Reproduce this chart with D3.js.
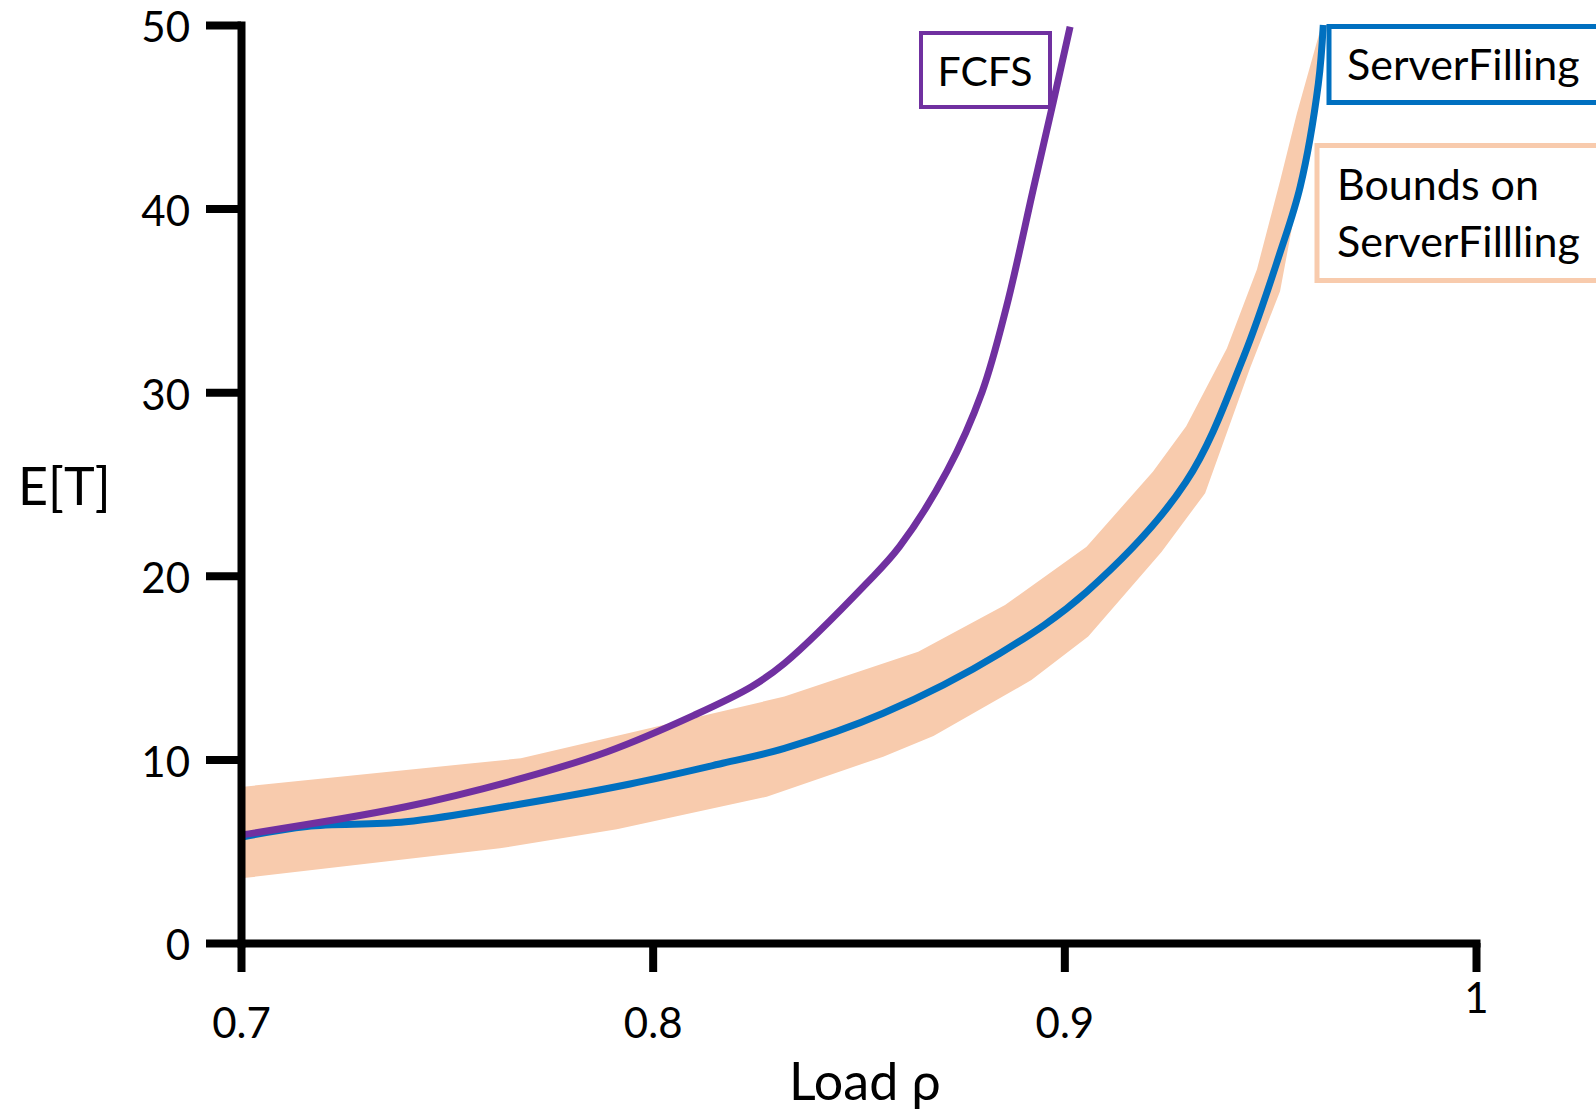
<!DOCTYPE html>
<html>
<head>
<meta charset="utf-8">
<script src="https://cdn.jsdelivr.net/npm/d3@7"></script>
<style>
  body { margin: 0; background: #ffffff; }
  svg text { font-family: Lato, "Open Sans", sans-serif; fill: #000; }
</style>
</head>
<body>
<div id="chart"></div>
<script>

// ticks
const xTicks = [0.7, 0.8, 0.9, 1]
const yTicks = [0, 10, 20, 30, 40, 50]

// FCFS curve (purple)
const fcfsRho = [0.700, 0.740, 0.769, 0.789, 0.810, 0.824, 0.832, 0.852, 0.860, 0.8715, 0.880, 0.886, 0.8925, 0.8973, 0.9014]
const fcfsET  = [5.88, 7.42, 9.02, 10.42, 12.4, 13.96, 15.23, 19.6, 21.6, 25.7, 30.0, 34.7, 41.1, 45.8, 49.9]

// ServerFilling curve (blue)
const sfRho = [0.700, 0.716, 0.740, 0.768, 0.7945, 0.817, 0.832, 0.856, 0.8844, 0.9054, 0.9295, 0.9435, 0.9524, 0.9573, 0.9617, 0.9629]
const sfET  = [5.76, 6.35, 6.6, 7.57, 8.66, 9.79, 10.6, 12.51, 15.78, 19.13, 25.1, 31.9, 37.6, 41.2, 46.8, 50.0]

// bounds band (peach), upper and lower edge
const boundsUpRho = [0.700, 0.768, 0.832, 0.8645, 0.8856, 0.9054, 0.9215, 0.9296, 0.9395, 0.9468, 0.9524, 0.9565, 0.9625]
const boundsUpET  = [8.5, 10.06, 13.42, 15.87, 18.41, 21.58, 25.67, 28.15, 32.4, 36.7, 41.5, 45.2, 50]
const boundsLoRho = [0.700, 0.7629, 0.7913, 0.8277, 0.856, 0.8682, 0.892, 0.9058, 0.9236, 0.9342, 0.9451, 0.9524, 0.9565, 0.9622, 0.9638]
const boundsLoET  = [3.52, 5.16, 6.19, 7.97, 10.15, 11.27, 14.32, 16.7, 21.3, 24.5, 31.3, 35.5, 40.4, 47.2, 50]

// labels
const xLabel = "Load ρ"
const yLabel = "E[T]"
const fcfsLabel = "FCFS"
const sfLabel = "ServerFilling"
const boundsLabel = ["Bounds on", "ServerFillling"]

const purple = "#7030A0"
const blue = "#0070C0"
const peach = "#F8CBAD"

const wSvg = 1596, hSvg = 1111

let svg = d3.select("#chart")
            .append("svg")
            .attr("width", wSvg)
            .attr("height", hSvg)

svg.append("rect")
   .attr("width", wSvg)
   .attr("height", hSvg)
   .attr("fill", "#ffffff")

let xScale = d3.scaleLinear([0.7, 1], [241, 1476])
let yScale = d3.scaleLinear([0, 50], [943, 25])

function zipPoints(xs, ys) 
{
  return xs.map((x, i) => ({ rho: x, et: ys[i] }))
}

// band polygon: upper edge then lower edge backwards
let bandPoints = zipPoints(boundsUpRho, boundsUpET)
                   .concat(zipPoints(boundsLoRho, boundsLoET).reverse())

let polyMaker = d3.line()
  .x(d => xScale(d.rho))
  .y(d => yScale(d.et))

svg.append("path")
   .datum(bandPoints)
   .attr("fill", peach)
   .attr("stroke", "none")
   .attr("d", d => polyMaker(d) + "Z")

let curveMaker = d3.line()
  .x(d => xScale(d.rho))
  .y(d => yScale(d.et))
  .curve(d3.curveCatmullRom.alpha(0.5))

// legend boxes
svg.append("rect")
   .attr("x", 921).attr("y", 33)
   .attr("width", 129).attr("height", 74)
   .attr("fill", "#ffffff")
   .attr("stroke", purple)
   .attr("stroke-width", 4)

svg.append("text")
   .attr("x", 985).attr("y", 86)
   .attr("text-anchor", "middle")
   .style("font-size", "41px")
   .text(fcfsLabel)

svg.append("rect")
   .attr("x", 1329).attr("y", 26.5)
   .attr("width", 400).attr("height", 76)
   .attr("fill", "#ffffff")
   .attr("stroke", blue)
   .attr("stroke-width", 5)

svg.append("text")
   .attr("x", 1347).attr("y", 80)
   .style("font-size", "43px")
   .text(sfLabel)

svg.append("rect")
   .attr("x", 1317).attr("y", 145.5)
   .attr("width", 400).attr("height", 135)
   .attr("fill", "#ffffff")
   .attr("stroke", peach)
   .attr("stroke-width", 5)

svg.append("text")
   .attr("x", 1337).attr("y", 200)
   .style("font-size", "43px")
   .selectAll("tspan")
   .data(boundsLabel)
   .enter()
   .append("tspan")
   .attr("x", 1337)
   .attr("dy", (d, i) => i === 0 ? 0 : 57)
   .text(d => d)

// curves
svg.append("path")
   .datum(zipPoints(sfRho, sfET))
   .attr("fill", "none")
   .attr("stroke", blue)
   .attr("stroke-width", 7)
   .attr("d", curveMaker)

svg.append("path")
   .datum(zipPoints(fcfsRho, fcfsET))
   .attr("fill", "none")
   .attr("stroke", purple)
   .attr("stroke-width", 7)
   .attr("d", curveMaker)

// y-axis
let yAxis = svg.append("g")
   .attr("transform", "translate(241, 0)")
   .call(d3.axisLeft(yScale).tickValues(yTicks).tickSize(35).tickSizeOuter(0).tickPadding(16))

// x-axis
let xAxis = svg.append("g")
   .attr("transform", "translate(0, 943)")
   .call(d3.axisBottom(xScale).tickValues(xTicks).tickSize(29).tickSizeOuter(0)
           .tickFormat(d => String(d)))

for (let ax of [xAxis, yAxis]) 
{
  ax.select(".domain")
    .attr("stroke", "#000")
    .attr("stroke-width", 8)
    .attr("stroke-linecap", "square")
  ax.selectAll(".tick line")
    .attr("stroke", "#000")
    .attr("stroke-width", 8)
  ax.selectAll(".tick text")
    .attr("fill", "#000")
    .style("font-family", "Lato, 'Open Sans', sans-serif")
    .style("font-size", "42px")
}

yAxis.selectAll(".tick text")
     .attr("dy", "0.4em")

xAxis.selectAll(".tick text")
     .attr("y", 65)
     .attr("dy", "0.71em")

// the "1" sits higher in the original
xAxis.selectAll(".tick text")
     .filter(d => d === 1)
     .attr("y", 40)

// axis titles
svg.append("text")
   .attr("x", 18).attr("y", 505)
   .style("font-size", "52px")
   .text(yLabel)

svg.append("text")
   .attr("x", 789).attr("y", 1100)
   .style("font-size", "52px")
   .text(xLabel)

</script>
</body>
</html>
